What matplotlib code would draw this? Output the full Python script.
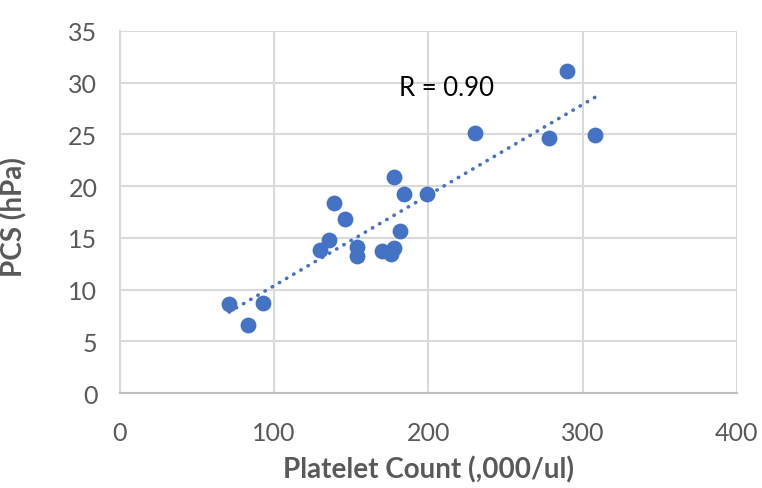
import matplotlib.pyplot as plt
import numpy as np

platelets = [71, 83, 93, 130, 136, 139, 146, 154, 154, 170, 176, 178, 178, 182, 184, 199, 230, 278, 290, 308]
pcs = [8.6, 6.6, 8.7, 13.8, 14.8, 18.4, 16.8, 14.1, 13.2, 13.7, 13.4, 14.0, 20.9, 15.7, 19.2, 19.2, 25.1, 24.6, 31.1, 24.9]
x_ticks = [0, 100, 200, 300, 400]
y_ticks = [0, 5, 10, 15, 20, 25, 30, 35]

blue = '#4472C4'
grey = '#595959'

plt.rcParams['font.family'] = ['Lato', 'DejaVu Sans']

fig = plt.figure(figsize=(7.62, 4.89), dpi=100)
ax = fig.add_axes([0.157, 0.194, 0.81, 0.741])

ax.scatter(platelets, pcs, s=130, color=blue, zorder=3, linewidths=0)

# linear trend line over the data range
x = np.array(platelets, dtype=float)
y = np.array(pcs)
slope, icpt = np.polyfit(x, y, 1)
xs = np.array([x.min(), x.max()])
ax.plot(xs, slope * xs + icpt, color=blue, lw=2.6, linestyle=(0, (0.1, 2.2)),
        dash_capstyle='round', zorder=2)

ax.text(212, 29.5, 'R = 0.90', fontsize=18.5, color='black', ha='center', va='center')

ax.set_xlim(0, 400)
ax.set_ylim(0, 35)
ax.set_xticks(x_ticks)
ax.set_yticks(y_ticks)
ax.grid(True, color='#d9d9d9', lw=1.5, zorder=0)
ax.set_axisbelow(True)
for side in ['top', 'right']:
    ax.spines[side].set_visible(False)
ax.spines['left'].set_color('#d9d9d9')
ax.spines['bottom'].set_color('#bfbfbf')
ax.spines['left'].set_linewidth(1.5)
ax.spines['bottom'].set_linewidth(1.5)
ax.tick_params(length=0, labelsize=18, labelcolor=grey)
ax.tick_params(axis='x', pad=20)
ax.tick_params(axis='y', pad=16)
ax.set_xlabel('Platelet Count (,000/ul)', fontsize=20, fontweight='bold', color=grey, va='center')
ax.set_ylabel('PCS (hPa)', fontsize=20, fontweight='bold', color=grey, va='center')
ax.xaxis.set_label_coords(0.5, -0.21)
ax.yaxis.set_label_coords(-0.172, 0.49)

fig.savefig('out.png', dpi=100)
